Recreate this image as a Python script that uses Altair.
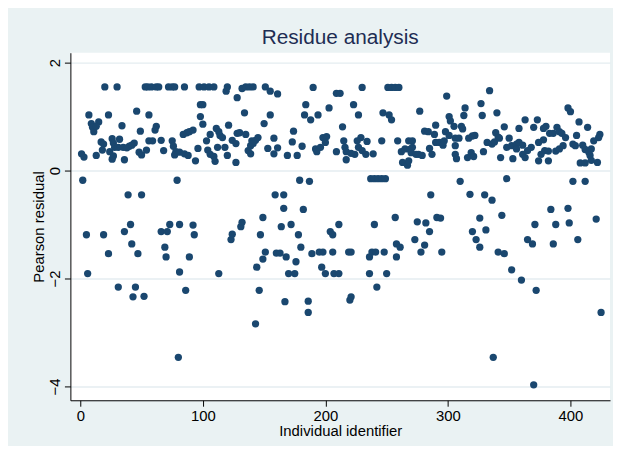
import altair as alt
import pandas as pd

# Individual identifier (x) and Pearson residual (y)
ids = [
    20, 30, 53, 55, 58, 62, 64, 72, 75, 77,
    7, 23, 46, 56,
    9, 10, 11, 15, 13, 34, 49, 62, 61,
    17, 19, 26, 27, 32, 44, 56, 59, 66, 75, 76,
    18, 24, 28, 31, 35, 40, 48, 54, 68, 78,
    1, 3, 13, 26, 27, 36, 50, 77, 38, 42,
    2, 39, 50, 79,
    5, 19, 23, 6, 36, 41, 42, 47, 31, 45, 43, 52, 66, 71, 73, 69, 70, 81, 81, 80,
    85, 97, 101, 105, 109, 119, 120, 128, 132, 135, 138, 141, 151, 155, 161,
    98, 100,
    98, 100, 134, 155, 150, 121,
    84, 87, 89, 92, 106, 111, 113, 114, 116, 128, 130, 135, 145, 158,
    103, 124, 127, 139, 140, 143, 141,
    81, 85, 88, 96, 104, 106, 109, 112, 118, 120, 137, 139, 153, 158, 161, 169,
    94, 110, 127,
    159, 166, 166,
    92, 93, 89, 86, 113, 123, 124, 131, 132, 149, 147, 164, 151, 149, 144, 146, 143, 160, 163, 168, 170, 167,
    190, 209, 212, 230, 251, 254, 257,
    184, 203, 223,
    183, 188, 194, 227, 247, 252, 254,
    214, 174,
    198, 201, 200, 173, 215, 229, 226, 234, 246, 259,
    181, 192, 196, 193, 216, 217, 209, 227, 230, 233, 224, 239, 221,
    177, 217,
    179, 187, 182, 237, 240, 243, 246, 249,
    172, 178, 180, 176, 175, 189, 195, 198, 206, 197, 200, 207, 211, 204, 206, 211, 219, 221, 240, 257,
    236, 238, 241, 248, 258, 258, 236, 250, 242, 220, 221, 186, 186,
    260, 334, 299,
    277, 327, 314, 313, 328, 340, 301, 302, 305, 311, 312, 290, 346,
    281, 284, 289, 298, 301, 306, 309, 317, 322, 320, 339, 341,
    268, 271, 290, 293, 297, 296, 306, 332, 336, 338, 342,
    262, 265, 269, 271, 270, 274, 276, 279, 285, 287, 306, 307, 316, 319, 321, 329, 343,
    263, 267, 268,
    286, 310, 318, 330, 336, 348,
    275, 282, 285, 273, 281, 278, 295, 291, 294, 261, 326, 320, 331, 323, 326, 341, 346, 344, 337,
    398, 400,
    363, 373, 358, 370, 380, 378, 407, 414,
    383, 386, 389, 391, 393, 396, 405, 424, 423, 350, 378, 419,
    348, 352, 356, 358, 361, 356, 368, 365, 374, 379, 382, 388, 391, 394, 402, 404, 410, 412, 415, 417,
    353, 361, 363, 374, 376, 382, 408, 412, 416, 417, 422,
    402, 412, 384, 398,
    371, 388, 399, 421, 365, 369, 386, 406, 352, 360, 372, 425, 370,
]

residuals = [
    1.55, 1.55, 1.55, 1.55, 1.55, 1.55, 1.55, 1.55, 1.55, 1.55,
    1.03, 1.03, 1.10, 1.03,
    0.87, 0.80, 0.72, 0.90, 0.82, 0.83, 0.73, 0.82, 0.75,
    0.53, 0.49, 0.59, 0.51, 0.58, 0.51, 0.55, 0.55, 0.56, 0.55, 0.45,
    0.38, 0.35, 0.43, 0.43, 0.43, 0.45, 0.34, 0.38, 0.37, 0.35,
    0.31, 0.25, 0.28, 0.21, 0.27, 0.20, 0.29, 0.29, 0.42, 0.47,
    -0.18, -0.45, -0.45, -0.18,
    -1.19, -1.19, -1.54, -1.91, -1.13, -1.00, -1.36, -1.54, -2.16, -2.16, -2.34, -2.33, -1.13, -1.13, -1.00, -1.42, -1.60, -1.88, -1.00, -3.46,
    1.55, 1.55, 1.55, 1.55, 1.55, 1.47, 1.55, 1.35, 1.52, 1.55, 1.55, 1.55, 1.55, 1.47, 1.42,
    1.22, 1.22,
    1.00, 0.86, 1.07, 1.03, 0.87, 0.84,
    0.67, 0.70, 0.72, 0.75, 0.67, 0.78, 0.72, 0.65, 0.61, 0.69, 0.70, 0.67, 0.61, 0.60,
    0.55, 0.56, 0.50, 0.46, 0.55, 0.56, 0.50,
    0.34, 0.31, 0.28, 0.41, 0.38, 0.30, 0.26, 0.43, 0.43, 0.28, 0.37, 0.31, 0.41, 0.31, 0.42, 0.28,
    0.18, 0.17, 0.15,
    -0.45, -0.45, -0.70,
    -1.01, -1.19, -1.60, -2.22, -1.91, -1.28, -1.18, -1.04, -0.96, -0.87, -1.19, -1.04, -1.51, -1.64, -1.79, -2.22, -2.84, -1.53, -1.53, -1.60, -1.91, -2.43,
    1.54, 1.43, 1.43, 1.54, 1.54, 1.54, 1.54,
    1.22, 1.16, 1.22,
    1.03, 0.94, 1.03, 1.03, 1.07, 1.03, 0.94,
    0.81, 0.73,
    0.61, 0.63, 0.52, 0.53, 0.55, 0.61, 0.55, 0.54, 0.55, 0.55,
    0.45, 0.40, 0.43, 0.35, 0.43, 0.35, 0.35, 0.43, 0.37, 0.30, 0.30, 0.31, 0.32,
    0.28, 0.20,
    -0.18, -0.20, -0.72, -0.15, -0.15, -0.15, -0.15, -0.15,
    -1.00, -1.19, -1.42, -1.69, -1.91, -1.54, -1.51, -1.51, -1.51, -1.79, -1.91, -1.91, -1.91, -1.13, -1.19, -1.00, -1.51, -1.51, -1.00, -0.87,
    -1.60, -1.51, -1.51, -1.51, -1.36, -1.60, -1.91, -1.91, -2.16, -2.40, -2.34, -2.42, -2.63,
    1.54, 1.48, 1.38,
    1.10, 1.24, 1.16, 1.02, 1.02, 1.07, 1.00, 0.92, 0.82, 0.82, 0.77, 0.84, 0.81,
    0.73, 0.72, 0.67, 0.72, 0.65, 0.60, 0.60, 0.60, 0.65, 0.64, 0.70, 0.62,
    0.55, 0.55, 0.52, 0.52, 0.55, 0.47, 0.46, 0.52, 0.49, 0.53, 0.60,
    0.35, 0.40, 0.39, 0.43, 0.33, 0.30, 0.30, 0.28, 0.41, 0.30, 0.30, 0.22, 0.24, 0.33, 0.26, 0.35, 0.24,
    0.15, 0.10, 0.18,
    -0.45, -0.20, -0.44, -0.45, -0.55, -0.15,
    -0.95, -0.97, -1.13, -1.28, -1.38, -1.51, -1.51, -0.87, -0.88, -1.42, -0.88, -1.13, -1.10, -1.28, -1.42, -1.51, -1.54, -0.83, -3.46,
    1.16, 1.09,
    0.94, 0.94, 0.78, 0.80, 0.82, 0.78, 0.90, 0.80,
    0.69, 0.69, 0.80, 0.72, 0.69, 0.61, 0.65, 0.67, 0.61, 0.60, 0.57, 0.55,
    0.43, 0.46, 0.49, 0.52, 0.47, 0.40, 0.43, 0.37, 0.52, 0.37, 0.36, 0.36, 0.40, 0.46, 0.49, 0.46, 0.47, 0.39, 0.34, 0.40,
    0.22, 0.30, 0.24, 0.18, 0.30, 0.18, 0.14, 0.14, 0.28, 0.19, 0.15,
    -0.20, -0.20, -0.72, -0.70,
    -1.00, -1.00, -0.97, -0.90, -1.28, -1.36, -1.36, -1.28, -1.84, -2.03, -2.22, -2.63, -3.97,
]

x_ticks = [0, 100, 200, 300, 400]
y_ticks = [-4, -2, 0, 2]

df = pd.DataFrame({"id": ids, "resid": residuals})

FONT = "Liberation Sans, Arial, Helvetica, sans-serif"

chart = alt.Chart(df).mark_circle(size=54, color="#1A476F", opacity=1).encode(
    x=alt.X(
        "id:Q",
        scale=alt.Scale(domain=[-8.1, 432.3], nice=False, zero=False),
        axis=alt.Axis(
            values=x_ticks, title="Individual identifier", grid=False,
            domainColor="#000000", tickColor="#000000", tickSize=6,
            labelFont=FONT, labelFontSize=15, labelColor="#000000", labelPadding=2,
            titleFont=FONT, titleFontSize=15, titleFontWeight="normal", titleColor="#000000",
            titleX=272.5, titleY=36, titleBaseline="alphabetic", titleAlign="center",
        ),
    ),
    y=alt.Y(
        "resid:Q",
        scale=alt.Scale(domain=[-4.257, 2.183], nice=False, zero=False),
        axis=alt.Axis(
            values=y_ticks, title="Pearson residual", grid=True,
            gridColor="#E4EDF0", gridWidth=1.5,
            domainColor="#000000", tickColor="#000000", tickSize=6,
            labelFont=FONT, labelFontSize=15, labelColor="#000000", labelPadding=5,
            labelAngle=270, labelAlign="center", labelBaseline="alphabetic",
            titleFont=FONT, titleFontSize=15, titleFontWeight="normal", titleColor="#000000",
            titleAngle=270, titleX=-27, titleY=175.5, titleBaseline="alphabetic", titleAlign="center",
        ),
    ),
).properties(
    width=545,
    height=351,
    title=alt.TitleParams(
        "Residue analysis", font=FONT, fontSize=21, fontWeight="normal",
        color="#1E2D53", anchor="middle", offset=10, baseline="alphabetic", dy=22,
    ),
    background="#EAF2F3",
    padding={"left": 63, "top": 43, "right": 3, "bottom": 44},
    autosize=alt.AutoSizeParams(type="none"),
).configure_view(fill="white", strokeWidth=0)

chart.save("out.html", embed_options={"renderer": "svg", "actions": False})
